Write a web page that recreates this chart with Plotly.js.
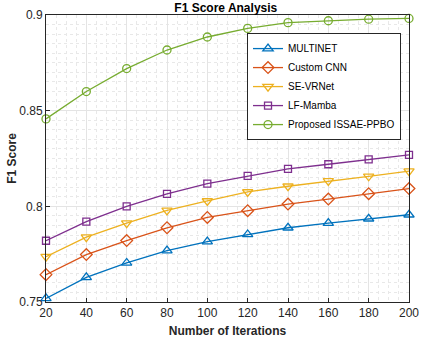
<!DOCTYPE html>
<html><head><meta charset="utf-8">
<script src="https://cdn.plot.ly/plotly-3.0.1.min.js"></script>
<style>html,body{margin:0;padding:0;background:#fff}#chart{width:422px;height:338px}</style>
</head><body><div id="chart"></div>
<script>
const iterations = [20, 40, 60, 80, 100, 120, 140, 160, 180, 200];
const multinet   = [0.7519, 0.7629, 0.7704, 0.7769, 0.7816, 0.7853, 0.7888, 0.7912, 0.7935, 0.7956];
const customCNN  = [0.7643, 0.7748, 0.7821, 0.7888, 0.7942, 0.7977, 0.8012, 0.8038, 0.8066, 0.8093];
const seVRNet    = [0.7737, 0.7839, 0.7912, 0.7979, 0.8028, 0.8075, 0.8105, 0.8133, 0.8157, 0.8184];
const lfMamba    = [0.7820, 0.7920, 0.8000, 0.8065, 0.8119, 0.8159, 0.8196, 0.8220, 0.8245, 0.8269];
const proposed   = [0.8457, 0.8600, 0.8720, 0.8817, 0.8885, 0.8930, 0.8960, 0.8970, 0.8978, 0.8982];
const names = ["MULTINET", "Custom CNN", "SE-VRNet", "LF-Mamba", "Proposed ISSAE-PPBO"];
const series = [multinet, customCNN, seVRNet, lfMamba, proposed];
const colors = ["#0072BD", "#D95319", "#EDB120", "#7E2F8E", "#77AC30"];
const symbols = ["triangle-up-open", "diamond-open", "triangle-down-open", "square-open", "circle-open"];
const sizes = [9, 9, 9, 7, 8];

const traces = series.map((ys, i) => ({
  x: iterations, y: ys, name: names[i], type: "scatter", mode: "lines+markers",
  line: {color: colors[i], width: 1.3},
  marker: {symbol: symbols[i], size: sizes[i], color: colors[i], line: {width: 1.3, color: colors[i]}},
  cliponaxis: false
}));

const axisCommon = {
  automargin: false,
  showline: true, linecolor: "#262626", linewidth: 1, mirror: true,
  ticks: "inside", ticklen: 4, tickcolor: "#262626",
  showgrid: true, gridcolor: "#e4e4e4", gridwidth: 1,
  zeroline: false,
  tickfont: {family: "Liberation Sans, Arial", size: 12, color: "#262626"}
};

const layout = {
  width: 422, height: 338,
  margin: {l: 46, r: 13, t: 15, b: 36},
  paper_bgcolor: "#fff", plot_bgcolor: "#fff",
  font: {family: "Liberation Sans, Arial", color: "#262626"},
  title: {text: "<b>F1 Score Analysis</b>", font: {size: 12, color: "#000"}, x: 0.535, xanchor: "center", y: 0.99, yanchor: "top"},
  xaxis: Object.assign({}, axisCommon, {
    range: [20, 200], tickvals: iterations, ticktext: iterations.map(String),
    title: {text: "<b>Number of Iterations</b>", font: {size: 12, color: "#262626"}, standoff: 7},
    minor: {dtick: 5, tick0: 0, showgrid: true, gridcolor: "#e8e8e8", griddash: "dot", gridwidth: 1, ticks: ""}
  }),
  yaxis: Object.assign({}, axisCommon, {
    range: [0.75, 0.9], tickvals: [0.75, 0.8, 0.85, 0.9], ticktext: ["0.75", "0.8", "0.85", "0.9"],
    title: {text: "<b>F1 Score</b>", font: {size: 12, color: "#262626"}, standoff: 0},
    minor: {dtick: 0.005, tick0: 0.75, showgrid: true, gridcolor: "#e8e8e8", griddash: "dot", gridwidth: 1, ticks: ""}
  }),
  showlegend: true,
  legend: {x: 0.978, y: 0.937, xanchor: "right", yanchor: "top",
    bgcolor: "#fff", bordercolor: "#262626", borderwidth: 1,
    font: {family: "Liberation Sans, Arial", size: 10, color: "#000"},
    tracegroupgap: 0}
};

Plotly.newPlot("chart", traces, layout, {displayModeBar: false, staticPlot: true});
</script></body></html>
